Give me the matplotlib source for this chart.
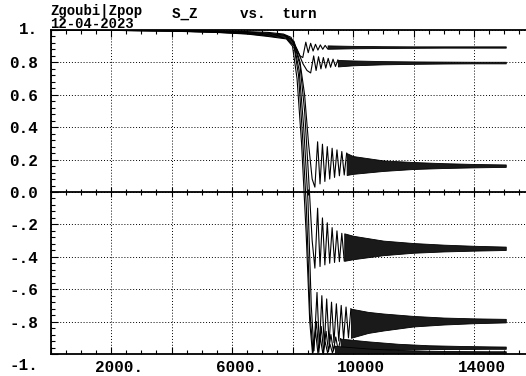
#!/usr/bin/env python3
# -*- coding: utf-8 -*-

import matplotlib
matplotlib.use('Agg')
import matplotlib.pyplot as plt
import matplotlib.transforms as mtransforms
from matplotlib.ticker import MultipleLocator

# S_Z vs turn for seven particles: crossing part as a polyline,
# then the settled (fast oscillating) part as a lo/hi band

a_turn = [0, 2000, 4000, 5500, 6500, 7200, 7700, 7950, 8100, 8250, 8340, 8440, 8520, 8600, 8680,
          8760, 8840, 8920, 9000, 9080, 9160]
a_val = [1.0, 0.999, 0.997, 0.994, 0.99, 0.985, 0.975, 0.955, 0.9, 0.84, 0.83, 0.925, 0.86, 0.918, 0.87,
         0.912, 0.876, 0.908, 0.881, 0.905, 0.884]
a_band_turn = [9160, 10000, 11000, 12000, 13000, 14000, 15050]
a_band_lo = [0.884, 0.887, 0.889, 0.890, 0.891, 0.891, 0.891]
a_band_hi = [0.905, 0.902, 0.900, 0.899, 0.899, 0.899, 0.899]

b_turn = [0, 2000, 4000, 5500, 6500, 7200, 7700, 7950, 8150, 8350, 8480, 8600, 8700, 8780, 8860,
          8940, 9020, 9100, 9180, 9260, 9340, 9420, 9500]
b_val = [1.0, 0.999, 0.996, 0.992, 0.987, 0.98, 0.97, 0.945, 0.88, 0.79, 0.75, 0.735, 0.84, 0.75, 0.835,
         0.76, 0.83, 0.765, 0.825, 0.77, 0.82, 0.775, 0.815]
b_band_turn = [9500, 10000, 11000, 12000, 13000, 14000, 15050]
b_band_lo = [0.775, 0.782, 0.788, 0.791, 0.793, 0.794, 0.794]
b_band_hi = [0.815, 0.812, 0.808, 0.806, 0.805, 0.804, 0.804]

c_turn = [0, 2000, 4000, 5500, 6500, 7200, 7800, 8050, 8250, 8400, 8530, 8650, 8740, 8830, 8910,
          8990, 9070, 9150, 9230, 9310, 9390, 9470, 9550, 9630, 9710, 9790]
c_val = [1.0, 0.999, 0.996, 0.99, 0.984, 0.976, 0.965, 0.93, 0.8, 0.6, 0.3, 0.08, 0.03, 0.31, 0.05,
         0.295, 0.065, 0.28, 0.08, 0.27, 0.09, 0.26, 0.10, 0.25, 0.105, 0.24]
c_band_turn = [9790, 10000, 11000, 12000, 13000, 14000, 15050]
c_band_lo = [0.105, 0.112, 0.13, 0.142, 0.148, 0.152, 0.155]
c_band_hi = [0.24, 0.222, 0.195, 0.185, 0.178, 0.173, 0.17]

d_turn = [0, 2000, 4000, 5500, 6500, 7200, 7800, 8050, 8250, 8400, 8530, 8650, 8740, 8830, 8910,
          8990, 9070, 9150, 9230, 9310, 9390, 9470, 9550, 9630, 9710]
d_val = [1.0, 0.998, 0.995, 0.989, 0.981, 0.972, 0.96, 0.92, 0.78, 0.5, 0.1, -0.3, -0.47, -0.10, -0.46,
         -0.16, -0.45, -0.19, -0.44, -0.22, -0.435, -0.24, -0.43, -0.255, -0.425]
d_band_turn = [9710, 10000, 11000, 12000, 13000, 14000, 15050]
d_band_lo = [-0.425, -0.415, -0.39, -0.375, -0.367, -0.362, -0.358]
d_band_hi = [-0.255, -0.27, -0.30, -0.315, -0.325, -0.332, -0.337]

e_turn = [0, 2000, 4000, 5500, 6500, 7200, 7800, 8050, 8220, 8370, 8510, 8620, 8710, 8810, 8890,
          8970, 9050, 9130, 9210, 9290, 9370, 9450, 9530, 9610, 9690, 9770, 9850, 9930]
e_val = [1.0, 0.998, 0.994, 0.987, 0.979, 0.968, 0.955, 0.91, 0.75, 0.4, -0.05, -0.7, -0.98, -0.62, -0.96,
         -0.64, -0.95, -0.66, -0.94, -0.68, -0.93, -0.69, -0.92, -0.70, -0.91, -0.71, -0.90, -0.72]
e_band_turn = [9930, 10500, 11000, 12000, 13000, 14000, 15050]
e_band_lo = [-0.90, -0.87, -0.855, -0.83, -0.818, -0.81, -0.805]
e_band_hi = [-0.72, -0.74, -0.75, -0.765, -0.775, -0.78, -0.783]

f_turn = [0, 2000, 4000, 5500, 6500, 7200, 7800, 8050, 8200, 8330, 8460, 8580, 8680, 8790, 8870,
          8950, 9030, 9110, 9190, 9270, 9350, 9430, 9510, 9590]
f_val = [1.0, 0.998, 0.994, 0.986, 0.977, 0.964, 0.95, 0.9, 0.72, 0.35, -0.1, -0.75, -0.99, -0.80, -0.99,
         -0.83, -0.99, -0.86, -0.985, -0.88, -0.98, -0.895, -0.978, -0.905]
f_band_turn = [9590, 10500, 11500, 12500, 13500, 14500, 15050]
f_band_lo = [-0.978, -0.975, -0.972, -0.97, -0.969, -0.968, -0.968]
f_band_hi = [-0.905, -0.922, -0.937, -0.946, -0.95, -0.953, -0.954]

g_turn = [0, 2000, 4000, 5500, 6500, 7200, 7800, 8000, 8150, 8300, 8450, 8570, 8660, 8760, 8840,
          8920, 9000, 9080, 9160, 9240, 9320, 9400]
g_val = [1.0, 0.998, 0.993, 0.985, 0.975, 0.96, 0.945, 0.9, 0.7, 0.3, -0.25, -0.8, -0.995, -0.86, -0.995,
         -0.9, -0.995, -0.925, -0.994, -0.94, -0.994, -0.95]
g_band_turn = [9400, 10500, 11500, 12500, 13500, 14500, 15050]
g_band_lo = [-0.996, -0.995, -0.994, -0.994, -0.993, -0.993, -0.993]
g_band_hi = [-0.95, -0.966, -0.975, -0.98, -0.982, -0.983, -0.983]

x_major = [0, 2000, 4000, 6000, 8000, 10000, 12000, 14000, 16000]
x_labels = ['', '2000.', '', '6000.', '', '10000', '', '14000', '']
y_major = [-1.0, -0.8, -0.6, -0.4, -0.2, 0.0, 0.2, 0.4, 0.6, 0.8, 1.0]
y_labels = ['-1.', '-.8', '-.6', '-.4', '-.2', '0.0', '0.2', '0.4', '0.6', '0.8', '1.']


def draw_curve(ax, turns, vals, band_turns, band_lo, band_hi):
    ax.plot(turns, vals, color='black', lw=0.8, zorder=3)
    ax.fill_between(band_turns, band_lo, band_hi, facecolor='0.1',
                    edgecolor='black', lw=0.6, zorder=3)


def main():
    plt.rcParams['font.family'] = ['Liberation Mono', 'DejaVu Sans Mono']
    plt.rcParams['font.weight'] = 'bold'

    fig = plt.figure(figsize=(5.26, 3.76), dpi=100)
    ax = fig.add_axes([50.5 / 526, 22 / 376, 484 / 526, 324 / 376])
    ax.set_xlim(0, 16000)
    ax.set_ylim(-1, 1)

    draw_curve(ax, a_turn, a_val, a_band_turn, a_band_lo, a_band_hi)
    draw_curve(ax, b_turn, b_val, b_band_turn, b_band_lo, b_band_hi)
    draw_curve(ax, c_turn, c_val, c_band_turn, c_band_lo, c_band_hi)
    draw_curve(ax, d_turn, d_val, d_band_turn, d_band_lo, d_band_hi)
    draw_curve(ax, e_turn, e_val, e_band_turn, e_band_lo, e_band_hi)
    draw_curve(ax, f_turn, f_val, f_band_turn, f_band_lo, f_band_hi)
    draw_curve(ax, g_turn, g_val, g_band_turn, g_band_lo, g_band_hi)

    # frame: no right side
    ax.spines['right'].set_visible(False)
    for side in ('left', 'top', 'bottom'):
        ax.spines[side].set_linewidth(1.3)

    ax.set_xticks(x_major, x_labels, fontsize=11.5)
    ax.xaxis.set_minor_locator(MultipleLocator(500))
    ax.set_yticks(y_major, y_labels, fontsize=11.5)
    ax.yaxis.set_minor_locator(MultipleLocator(0.04))
    ax.tick_params(axis='x', which='both', direction='in', top=True,
                   bottom=True, width=0.8, pad=4)
    ax.tick_params(axis='x', which='major', length=5)
    ax.tick_params(axis='x', which='minor', length=3)
    ax.tick_params(axis='y', which='both', direction='in', right=False,
                   width=0.8, pad=9)
    ax.tick_params(axis='y', which='major', length=5)
    ax.tick_params(axis='y', which='minor', length=3)
    ax.grid(which='major', color='black', linestyle=(0, (1, 2)), lw=0.7)

    # x labels sit a bit right of their tick
    shift = mtransforms.ScaledTranslation(0.08, 0, fig.dpi_scale_trans)
    for lab in ax.get_xticklabels():
        lab.set_transform(lab.get_transform() + shift)
    ylabs = ax.get_yticklabels()
    ylabs[0].set_transform(ylabs[0].get_transform() +
                           mtransforms.ScaledTranslation(0, -0.1, fig.dpi_scale_trans))
    ylabs[-1].set_transform(ylabs[-1].get_transform() +
                            mtransforms.ScaledTranslation(0, 0.02, fig.dpi_scale_trans))

    # zero line with its own ticks
    zero = ax.secondary_xaxis(0.5)
    zero.set_xticks(x_major, [''] * len(x_major))
    zero.xaxis.set_minor_locator(MultipleLocator(500))
    zero.tick_params(which='both', direction='inout', width=0.8)
    zero.tick_params(which='major', length=7)
    zero.tick_params(which='minor', length=5)
    for side in ('top', 'bottom'):
        zero.spines[side].set_linewidth(1.3)

    fig.text(50 / 526, 1 - 14.5 / 376, 'Zgoubi|Zpop', fontsize=10,
             va='baseline', ha='left')
    fig.text(50 / 526, 1 - 28 / 376, '12-04-2023', fontsize=10,
             va='baseline', ha='left')
    fig.text(172 / 526, 1 - 18 / 376, 'S_Z     vs.  turn', fontsize=10.3,
             va='baseline', ha='left')

    fig.savefig('out.png', dpi=100)
    plt.close(fig)


if __name__ == '__main__':
    exit(main())
